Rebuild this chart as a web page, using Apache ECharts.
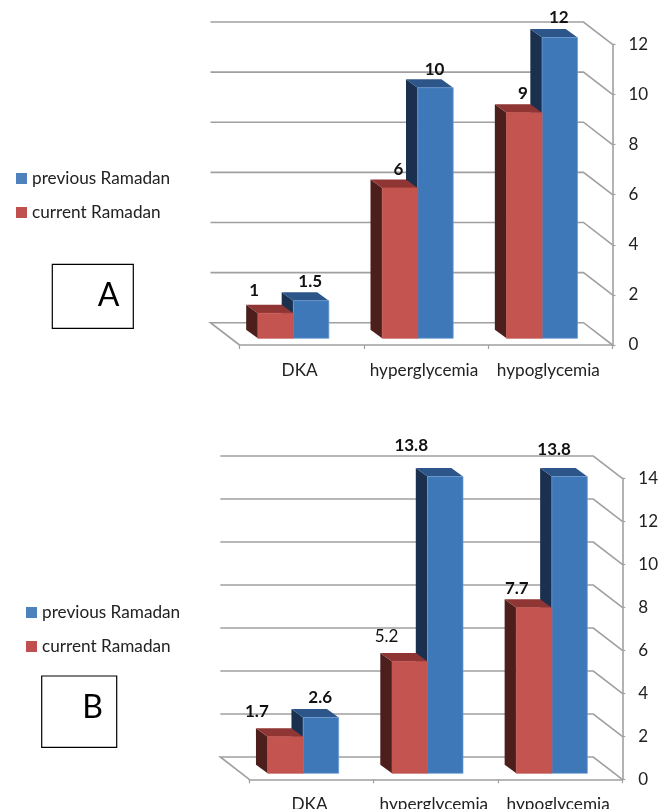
<!DOCTYPE html>
<html><head><meta charset="utf-8">
<style>html,body{margin:0;padding:0;background:#fff}#c{width:661px;height:809px}</style>
<script src="https://cdn.jsdelivr.net/npm/echarts@6/dist/echarts.min.js"></script>
</head><body><div id="c"></div>
<script>
const categories = ['DKA', 'hyperglycemia', 'hypoglycemia'];
const seriesNames = ['previous Ramadan', 'current Ramadan'];
const previousA = [1.5, 10, 12];
const currentA = [1, 6, 9];
const previousB = [2.6, 13.8, 13.8];
const currentB = [1.7, 5.2, 7.7];
const ticksA = [0, 2, 4, 6, 8, 10, 12];
const ticksB = [0, 2, 4, 6, 8, 10, 12, 14];

// label nudges relative to the category/value point, and weights (style only)
const prevOffA = [[8.5,-25.4],[8.5,-25.4],[8.5,-26.3]];
const currOffA = [[-47.5,-29],[-27.5,-25.6],[-27.5,-25.5]];
const prevOffB = [[8.7,-25.7],[-24.6,-36.9],[-6,-33.3]];
const currOffB = [[-54.6,-31.1],[-49.3,-30.8],[-43.3,-25.5]];
const currWeightB = ['bold','normal','bold'];

const FONT = 'Lato';
const GREY = '#a0a0a0';
const BAR_W = 35.5, SIDE_X = 11.7, SIDE_Y = 8.5;
const BACK_X = 29, BACK_Y = 22.3;
const colors = {
  prev: {legend:'#4F81BD', front:'#3F78B9', top:'#2C5689', side:'#1B304E', edge:'#6C9BD2'},
  curr: {legend:'#C0504D', front:'#C4544F', top:'#8F3533', side:'#4C1F1D', edge:'#C4544F'}
};

function wallSeries(ticks, idx){
  return {
    type:'custom', xAxisIndex:idx, yAxisIndex:idx, silent:true, z:1, clip:false,
    data: ticks.map(t => [0, t]),
    renderItem(params, api){
      const cs = params.coordSys;
      const left = cs.x, right = cs.x + cs.width;
      const v = api.value(1), y = api.coord([0, v])[1];
      const pts = [[right, y],[right-BACK_X, y-BACK_Y],[left-BACK_X, y-BACK_Y]];
      if (v === 0) pts.push([left, y]);
      return {type:'polyline', shape:{points:pts}, style:{stroke:GREY, lineWidth:1.6, fill:null}};
    }
  };
}

function barSeries(name, values, idx, c, side, offs, weights, shiftX, shiftY){
  return {
    type:'custom', name, xAxisIndex:idx, yAxisIndex:idx, z:side>0?3:4, clip:false, silent:true,
    itemStyle:{color:c.legend},
    data: values.map((v,i)=>[i,v]),
    renderItem(params, api){
      const i = api.value(0), v = api.value(1);
      const p = api.coord([i, v]), p0 = api.coord([i, 0]);
      const cx = p[0] + shiftX;
      const l = side>0 ? cx : cx - BAR_W, r = l + BAR_W;
      const t = p[1] + shiftY, b = p0[1] + shiftY;
      const dx = SIDE_X, dy = SIDE_Y;
      return {type:'group', children:[
        {type:'polygon', shape:{points:[[l,t],[l,b],[l-dx,b-dy],[l-dx,t-dy]]}, style:{fill:c.side}},
        {type:'polygon', shape:{points:[[l,t],[r,t],[r-dx,t-dy],[l-dx,t-dy]]}, style:{fill:c.top}},
        {type:'rect', shape:{x:l,y:t,width:BAR_W,height:b-t}, style:{fill:c.front, stroke:c.edge, lineWidth:0.7}},
        {type:'text', style:{text:String(v), x:p[0]+offs[i][0], y:p[1]+offs[i][1], align:'center', verticalAlign:'middle',
          fill:'#111', font:(weights?weights[i]:'bold')+' 17px '+FONT}}
      ]};
    }
  };
}

function axisX(idx){
  return {type:'category', gridIndex:idx, data:categories, position:'bottom',
    axisLine:{show:true, onZero:false, lineStyle:{color:GREY, width:1.6}},
    axisTick:{show:true, length:4, lineStyle:{color:GREY, width:1.2}},
    axisLabel:{color:'#222', fontFamily:FONT, fontSize:17.2, margin:17, interval:0, hideOverlap:false, padding:[0,4,0,0]},
    splitLine:{show:false}};
}
function axisY(idx, max){
  return {type:'value', gridIndex:idx, min:0, max, interval:2, position:'right',
    axisLine:{show:true, lineStyle:{color:GREY, width:1.6}},
    axisTick:{show:true, length:3, inside:false, lineStyle:{color:GREY, width:1.2}},
    axisLabel:{color:'#222', fontFamily:FONT, fontSize:17, margin:16, align:'left', padding:[3,0,0,0]},
    splitLine:{show:false}};
}
function legend(left, top){
  return {orient:'vertical', left, top, data:seriesNames, icon:'rect', itemWidth:11, itemHeight:11, itemGap:17, selectedMode:false,
    textStyle:{color:'#222', fontFamily:FONT, fontSize:17.2}, padding:0};
}
function box(x,y,w,h,letter,tx,ty){
  return [
    {type:'rect', shape:{x,y,width:w,height:h}, style:{fill:'#fff', stroke:'#000', lineWidth:1.2}},
    {type:'text', style:{text:letter, x:tx, y:ty, align:'center', verticalAlign:'middle', fill:'#000', font:'32px '+FONT}}
  ];
}

const chart = echarts.init(document.getElementById('c'));
chart.setOption({
  animation:false,
  backgroundColor:'#fff',
  legend:[legend(16,170), legend(26,604)],
  grid:[
    {left:239.5, top:44.3, width:373, height:300.7, outerBoundsMode:'none'},
    {left:249.3, top:478.3, width:373, height:301, outerBoundsMode:'none'}
  ],
  xAxis:[axisX(0), axisX(1)],
  yAxis:[axisY(0,12), axisY(1,14)],
  series:[
    wallSeries(ticksA,0),
    barSeries(seriesNames[0], previousA, 0, colors.prev, 1, prevOffA, null, -8.3, -6.7),
    barSeries(seriesNames[1], currentA, 0, colors.curr, -1, currOffA, null, -8.3, -6.7),
    wallSeries(ticksB,1),
    barSeries(seriesNames[0], previousB, 1, colors.prev, 1, prevOffB, null, -8.3, -6),
    barSeries(seriesNames[1], currentB, 1, colors.curr, -1, currOffB, currWeightB, -8.3, -6)
  ],
  graphic:[...box(52.3,264.3,81,64,'A',108.7,296), ...box(41.7,676,75,71.3,'B',92.7,707.3)]
});
</script></body></html>
